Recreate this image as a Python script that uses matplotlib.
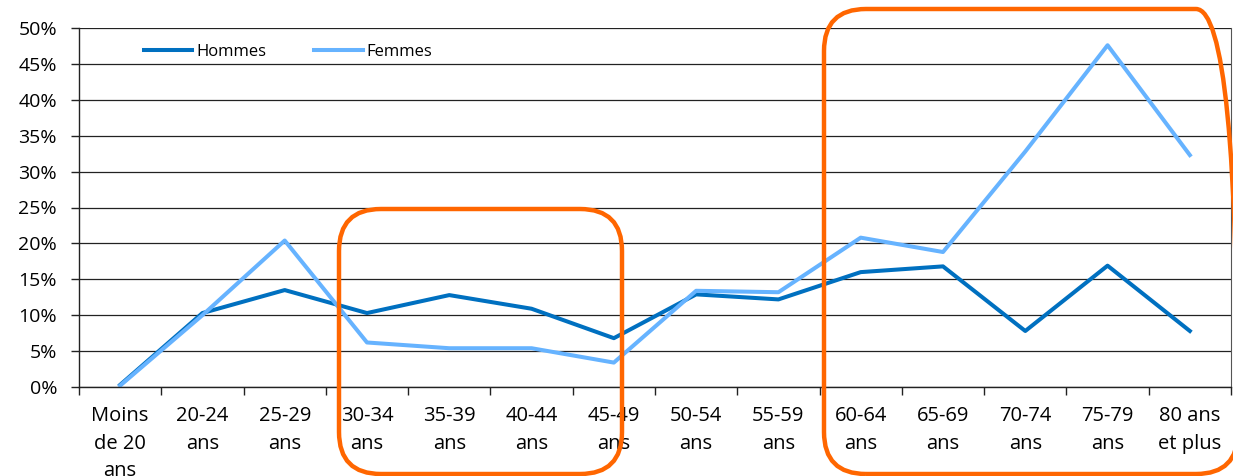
import numpy as np
import matplotlib
matplotlib.use("Agg")
import matplotlib.pyplot as plt
from matplotlib.patches import FancyBboxPatch
from matplotlib.transforms import IdentityTransform
from matplotlib.ticker import FixedLocator, PercentFormatter

categories = ["Moins\nde 20\nans", "20-24\nans", "25-29\nans", "30-34\nans", "35-39\nans",
              "40-44\nans", "45-49\nans", "50-54\nans", "55-59\nans", "60-64\nans",
              "65-69\nans", "70-74\nans", "75-79\nans", "80 ans\net plus"]
hommes = [0.3, 10.3, 13.5, 10.3, 12.8, 10.9, 6.8, 12.9, 12.2, 16.0, 16.8, 7.8, 16.9, 7.8]
femmes = [0.2, 10.0, 20.4, 6.2, 5.4, 5.4, 3.4, 13.4, 13.2, 20.8, 18.8, 32.8, 47.6, 32.3]

plt.rcParams['font.family'] = ['Open Sans', 'DejaVu Sans']

fig = plt.figure(figsize=(12.33, 4.76), dpi=100)
ax = fig.add_axes([79 / 1233, 1 - 387 / 476, 1152 / 1233, 359 / 476])

x = np.arange(len(categories))
ax.plot(x, hommes, color="#0070C0", lw=2.9, label="Hommes")
ax.plot(x, femmes, color="#66B3FF", lw=2.9, label="Femmes")

ax.set_xlim(-0.5, len(categories) - 0.5)
ax.set_ylim(0, 50)
ax.set_yticks(np.arange(0, 51, 5))
ax.yaxis.set_major_formatter(PercentFormatter(decimals=0))
ax.yaxis.grid(True, color="#222222", lw=0.9)
ax.set_axisbelow(True)

ax.set_xticks(x)
ax.set_xticklabels(categories, linespacing=1.5, va="top")
ax.tick_params(axis="x", which="major", length=0, pad=14, labelsize=14.5)
ax.xaxis.set_minor_locator(FixedLocator(np.arange(-0.5, len(categories), 1)))
ax.tick_params(axis="x", which="minor", length=5.5, width=1, color="#222222")
ax.tick_params(axis="y", length=5.8, width=1, color="#222222", labelsize=14, pad=10)

for s in ["left", "bottom"]:
    ax.spines[s].set_color("#222222")
    ax.spines[s].set_linewidth(1)
ax.spines["top"].set_visible(False)
ax.spines["right"].set_color("#555555")
ax.spines["right"].set_linewidth(0.8)

ax.legend(loc="upper left", bbox_to_anchor=(0.043, 0.998), ncol=2, frameon=False,
          fontsize=12, handlelength=2.9, handletextpad=0.25, columnspacing=2.9)

# orange highlight boxes (annotation)
boxes = [(339, 2, 283, 265), (824, 2, 414, 465)]
for bx, by, bw, bh in boxes:
    p = FancyBboxPatch((bx, by), bw, bh, boxstyle="round,pad=0,rounding_size=42",
                       transform=IdentityTransform(), fill=False,
                       edgecolor="#FF6600", lw=3.2, clip_on=False)
    fig.patches.append(p)

fig.savefig("out.png", dpi=100)
